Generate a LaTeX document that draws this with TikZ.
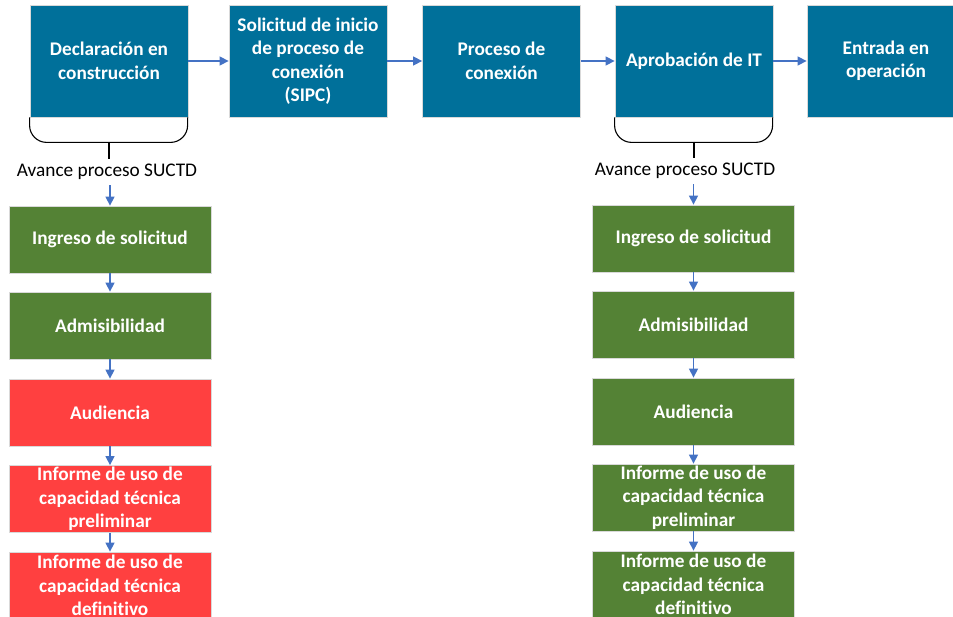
\documentclass[tikz,border=0pt]{standalone}
\usepackage{fontspec}
\setmainfont{Carlito}[Ligatures={NoCommon,NoContextual},Contextuals=NoAlternate]
\usetikzlibrary{arrows.meta}
\definecolor{boxblue}{RGB}{0,112,154}
\definecolor{boxgreen}{RGB}{84,130,53}
\definecolor{boxred}{RGB}{255,64,64}
\definecolor{arrowblue}{RGB}{68,114,196}
\newcommand{\boxfont}{\bfseries\fontsize{19.3}{23.5}\selectfont}
\newcommand{\labfont}{\fontsize{19.3}{23.5}\selectfont}
\tikzset{
  basebox/.style={rectangle, draw=black!15, line width=0.8pt, text=white, font=\boxfont, align=center, inner sep=0pt},
  topbox/.style={basebox, fill=boxblue, minimum width=158pt, minimum height=112pt},
  greenbox/.style={basebox, fill=boxgreen, minimum width=202pt, minimum height=67pt},
  redbox/.style={basebox, fill=boxred, minimum width=202pt, minimum height=67pt},
  arr/.style={draw=arrowblue, line width=1.4pt, -{Triangle[length=9pt,width=9pt]}},
  bracket/.style={draw=black, line width=1.1pt, rounded corners=17pt},
  advlabel/.style={font=\labfont, text=black, inner xsep=0pt, inner ysep=5pt}
}
\begin{document}
\begin{tikzpicture}[x=1pt,y=-1pt]
\useasboundingbox (0,0) rectangle (953,617);
\fill[white] (0,0) rectangle (953,617);
% top row
\node[topbox] (b1) at (109,61) {Declaración en\\construcción};
\node[topbox] (b2) at (308,61) {Solicitud de inicio\\de proceso de\\conexión\\(SIPC)};
\node[topbox] (b3) at (501.5,61) {Proceso de\\conexión};
\node[topbox] (b4) at (694,61) {Aprobación de IT};
\node[topbox] (b5) at (886,61) {Entrada en\\operación};
\draw[arr] (b1.east) -- (b2.west);
\draw[arr] (b2.east) -- (b3.west);
\draw[arr] (b3.east) -- (b4.west);
\draw[arr] (b4.east) -- (b5.west);
% brackets
\draw[bracket] (b1.south west) -- ++(0,25) -- ++(158,0) -- ++(0,-25);
\draw[bracket] (b4.south west) -- ++(0,25) -- ++(158,0) -- ++(0,-25);
\coordinate (k1) at (109,142);
\coordinate (k2) at (694,142);
\node[advlabel] (adv1) at (107,172) {Avance proceso SUCTD};
\node[advlabel] (adv2) at (685,171) {Avance proceso SUCTD};
\draw[line width=1.1pt] (k1) -- (k1 |- adv1.north);
\draw[line width=1.1pt] (k2) -- (k2 |- adv2.north);
% left column
\node[greenbox] (l1) at (110,239.5) {Ingreso de solicitud};
\node[greenbox] (l2) at (110,325.5) {Admisibilidad};
\node[redbox] (l3) at (110,412.5) {Audiencia};
\node[redbox] (l4) at (110,499) {Informe de uso de\\capacidad técnica\\preliminar};
\node[redbox] (l5) at (110,585.5) {Informe de uso de\\capacidad técnica\\definitivo};
\draw[arr] (l1.north |- adv1.south) -- (l1.north);
\draw[arr] (l1.south) -- (l2.north);
\draw[arr] (l2.south) -- (l3.north);
\draw[arr] (l3.south) -- (l4.north);
\draw[arr] (l4.south) -- (l5.north);
% right column
\node[greenbox] (r1) at (693.5,238.5) {Ingreso de solicitud};
\node[greenbox] (r2) at (693.5,324.5) {Admisibilidad};
\node[greenbox] (r3) at (693.5,411.5) {Audiencia};
\node[greenbox] (r4) at (693.5,497.5) {Informe de uso de\\capacidad técnica\\preliminar};
\node[greenbox] (r5) at (693.5,584.5) {Informe de uso de\\capacidad técnica\\definitivo};
\draw[arr] (r1.north |- adv2.south) -- (r1.north);
\draw[arr] (r1.south) -- (r2.north);
\draw[arr] (r2.south) -- (r3.north);
\draw[arr] (r3.south) -- (r4.north);
\draw[arr] (r4.south) -- (r5.north);
\end{tikzpicture}
\end{document}
